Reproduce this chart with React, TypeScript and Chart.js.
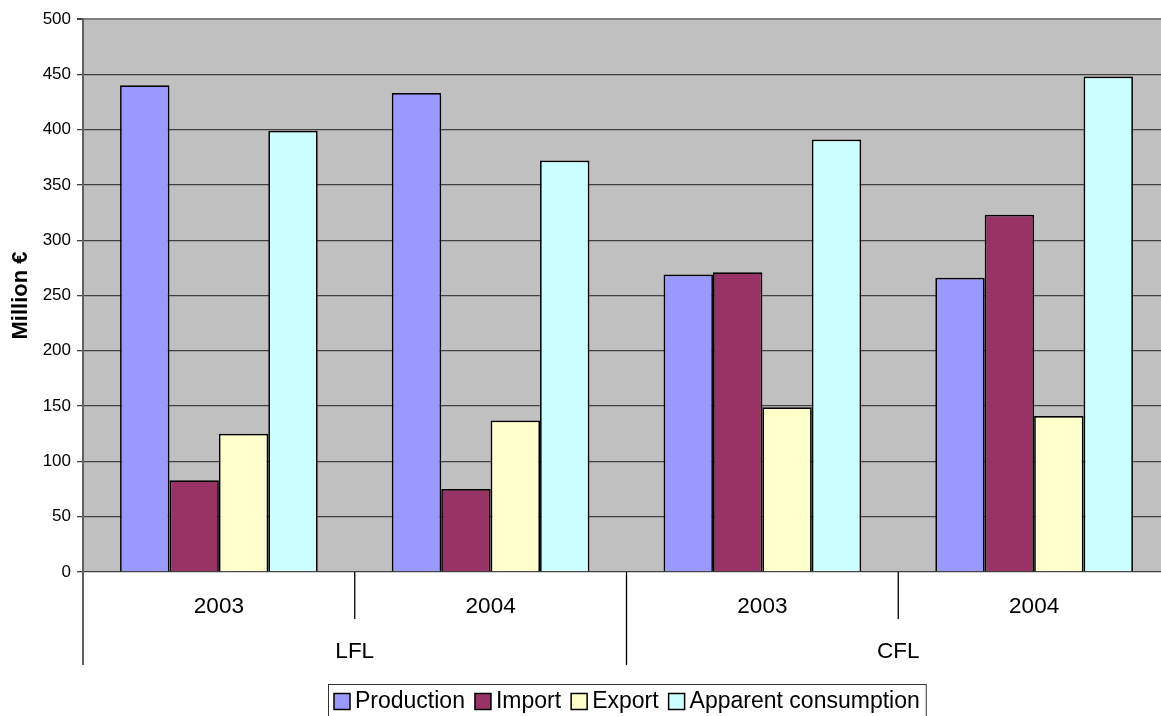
import React, { useEffect, useRef } from "react";
import { Chart, registerables } from "chart.js";

Chart.register(...registerables);

const FONT = '"Liberation Sans", Arial, sans-serif';

const years = ["2003", "2004", "2003", "2004"];
const groupOf = ["LFL", "LFL", "CFL", "CFL"];
const seriesNames = ["Production", "Import", "Export", "Apparent consumption"];
const production = [440, 433, 269, 266];
const importValues = [83, 75, 271, 323];
const exportValues = [125, 137, 149, 141];
const apparentConsumption = [399, 372, 391, 448];
const yTicksMax = 500;
const yTicksStep = 50;
const yTitle = "Million €";

const colors = ["#9999FF", "#993366", "#FFFFCC", "#CCFFFF"];

const customPlugin = {
  id: "custom",
  beforeDraw(chart: any) {
    const { ctx, chartArea: a } = chart;
    ctx.save();
    ctx.fillStyle = "#C0C0C0";
    ctx.fillRect(a.left, a.top, a.right - a.left, a.bottom - a.top);
    ctx.restore();
  },
  afterDraw(chart: any) {
    const { ctx, chartArea: a } = chart;
    const xs = chart.scales.x;
    const n = years.length;
    const step = xs.getPixelForValue(1) - xs.getPixelForValue(0);
    const b0 = xs.getPixelForValue(0) - step / 2;
    ctx.save();
    // separators
    for (let i = 0; i <= n; i++) {
      const x = b0 + i * step;
      const isGroup = i === 0 || i === n || groupOf[i] !== groupOf[i - 1];
      ctx.beginPath();
      if (i === 0) {
        ctx.strokeStyle = "#606060";
        ctx.lineWidth = 2;
      } else {
        ctx.strokeStyle = "#000";
        ctx.lineWidth = 1.3;
      }
      ctx.moveTo(x, a.bottom);
      ctx.lineTo(x, a.bottom + (isGroup ? 93 : 47));
      ctx.stroke();
    }
    // year labels
    ctx.fillStyle = "#000";
    ctx.font = `22.5px ${FONT}`;
    ctx.textAlign = "center";
    ctx.textBaseline = "middle";
    for (let i = 0; i < n; i++) {
      ctx.fillText(years[i], xs.getPixelForValue(i), a.bottom + 35);
    }
    // group labels
    let start = 0;
    for (let i = 1; i <= n; i++) {
      if (i === n || groupOf[i] !== groupOf[i - 1]) {
        const cx = b0 + ((start + i) / 2) * step;
        ctx.fillText(groupOf[start], cx, a.bottom + 80);
        start = i;
      }
    }
    // legend
    const items = chart.data.datasets.map((d: any) => ({ label: d.label, color: d.backgroundColor }));
    ctx.font = `23px ${FONT}`;
    const box = 16, gapIn = 5, gapOut = 10, pad = 6;
    let total = pad * 2;
    items.forEach((it: any, k: number) => {
      total += box + gapIn + ctx.measureText(it.label).width + (k < items.length - 1 ? gapOut : 0);
    });
    const x0 = Math.round(chart.width / 2 - total / 2);
    const top = a.bottom + 112;
    ctx.strokeStyle = "#333";
    ctx.lineWidth = 1;
    ctx.strokeRect(x0 + 0.5, top + 0.5, total, 60);
    let x = x0 + pad;
    const cy = top + 17.5;
    ctx.textAlign = "left";
    items.forEach((it: any) => {
      ctx.fillStyle = it.color;
      ctx.fillRect(x, cy - 8, box, box);
      ctx.strokeStyle = "#000";
      ctx.lineWidth = 1.5;
      ctx.strokeRect(x, cy - 8, box, box);
      ctx.fillStyle = "#000";
      ctx.fillText(it.label, x + box + gapIn, cy);
      x += box + gapIn + ctx.measureText(it.label).width + gapOut;
    });
    ctx.restore();
  },
};

export default function App() {
  const ref = useRef<HTMLCanvasElement>(null);
  useEffect(() => {
    const values = [production, importValues, exportValues, apparentConsumption];
    const chart = new Chart(ref.current as HTMLCanvasElement, {
      type: "bar",
      data: {
        labels: years,
        datasets: seriesNames.map((name, i) => ({
          label: name,
          data: values[i],
          backgroundColor: colors[i],
          borderColor: "#000",
          borderWidth: 1.7,
          barPercentage: 1,
          categoryPercentage: 4 / 5.5,
        })),
      },
      options: {
        animation: false,
        responsive: false,
        devicePixelRatio: 1,
        layout: { padding: { top: 19, bottom: 144, left: 0, right: 83 } },
        plugins: { legend: { display: false }, tooltip: { enabled: false } },
        scales: {
          x: { display: false },
          y: {
            min: 0,
            max: yTicksMax,
            afterFit: (s: any) => {
              s.width = 83;
            },
            ticks: {
              stepSize: yTicksStep,
              color: "#000",
              padding: 6,
              font: { family: FONT, size: 17 },
            },
            grid: {
              color: (c: any) => (c.tick && c.tick.value === yTicksMax ? "#808080" : "#404040"),
              lineWidth: (c: any) => (c.tick && c.tick.value === yTicksMax ? 2 : 1.3),
              tickColor: "#404040",
              tickLength: 6,
            },
            border: { color: "#606060", width: 2 },
            title: {
              display: true,
              text: yTitle,
              color: "#000",
              font: { family: FONT, size: 22, weight: "bold" },
              padding: { top: 8, bottom: 0 },
            },
          },
        },
      },
      plugins: [customPlugin],
    } as any);
    return () => chart.destroy();
  }, []);
  return (
    <div
      style={{
        position: "absolute",
        left: 0,
        top: 0,
        width: 1161,
        height: 716,
        overflow: "hidden",
        background: "#fff",
      }}
    >
      <canvas ref={ref} width={1253} height={716} style={{ display: "block", width: 1253, height: 716 }} />
    </div>
  );
}
